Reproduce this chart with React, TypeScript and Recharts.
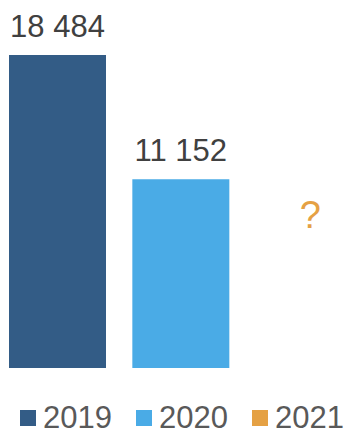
import React from 'react';
import {BarChart, Bar, XAxis, YAxis, Cell, LabelList} from 'recharts';

const years = ['2019', '2020', '2021'];
const values: (number | null)[] = [18484, 11152, null];
const colors = ['#335C86', '#4AABE6', '#E5A144'];

const data = years.map((year, i) => ({year, value: values[i]}));

const fmt = (v: any) => (v == null ? '' : String(v).replace(/\B(?=(\d{3})+(?!\d))/g, ' '));

// the pending year gets a "?" instead of a bar
const questionTick = (props: any) => {
    const {x, y, payload} = props;
    const idx = years.indexOf(payload.value);
    if (values[idx] != null) return <g/>;
    return (
        <text x={x + 6} y={y - 148} textAnchor="middle" fill={colors[idx]}
              style={{fontFamily: 'Arial, "Liberation Sans", sans-serif', fontSize: 38}}>
            ?
        </text>
    );
};

const App = () => {
    return (
        <div style={{position: 'absolute', left: 0, top: 0, width: 347, height: 435, background: '#fff'}}>
            <BarChart width={347} height={435} data={data}
                      margin={{top: 55, right: -19, bottom: 66, left: -4}}>
                <XAxis dataKey="year" axisLine={false} tickLine={false} height={1} tick={questionTick} interval={0}/>
                <YAxis hide domain={[0, 'dataMax']}/>
                <Bar dataKey="value" barSize={97} isAnimationActive={false}>
                    {data.map((d, i) => (
                        <Cell key={`cell-${i}`} fill={colors[i]}/>
                    ))}
                    <LabelList dataKey="value" position="top" offset={18} formatter={fmt}
                               style={{fill: '#404040', fontFamily: 'Arial, "Liberation Sans", sans-serif', fontSize: 31}}/>
                </Bar>
            </BarChart>
            <div style={{position: 'absolute', top: 406, left: 20, display: 'flex', alignItems: 'center',
                fontFamily: 'Arial, "Liberation Sans", sans-serif', fontSize: 31, lineHeight: '24px', color: '#595959'}}>
                {years.map((y, i) => (
                    <div key={y} style={{display: 'flex', alignItems: 'center', marginRight: 24}}>
                        <span style={{width: 16, height: 16, background: colors[i], marginRight: 7}}/>
                        <span>{y}</span>
                    </div>
                ))}
            </div>
        </div>
    );
};

export default App;
